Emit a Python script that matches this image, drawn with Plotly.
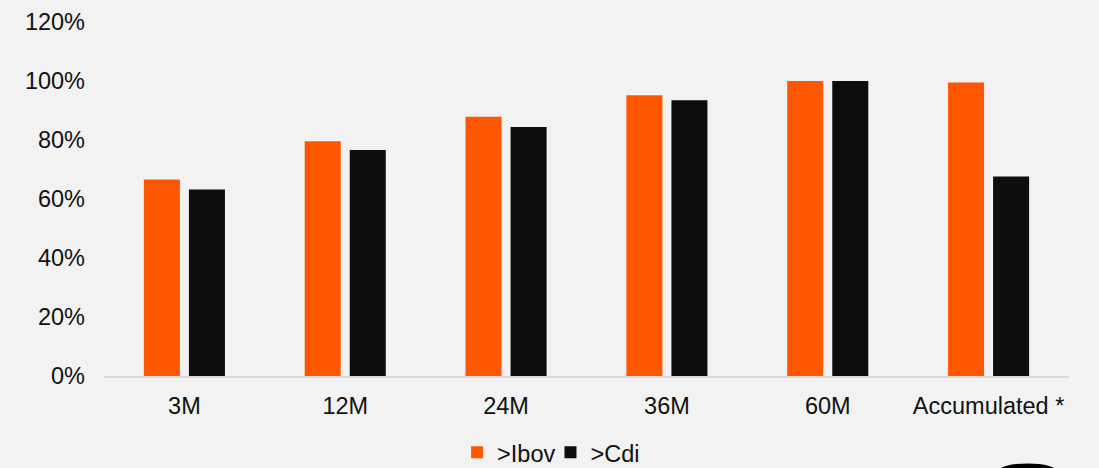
import plotly.graph_objects as go

# Share of periods beating each benchmark
categories = ["3M", "12M", "24M", "36M", "60M", "Accumulated *"]
beat_ibov = [66.6, 79.6, 87.9, 95.2, 100.0, 99.5]
beat_cdi = [63.2, 76.6, 84.4, 93.5, 100.0, 67.6]
y_ticks = [0, 20, 40, 60, 80, 100, 120]
y_tick_text = [f"{v}%" for v in y_ticks]

ORANGE = "#FF5700"
BLACK = "#0D0D0D"
BG = "#F2F2F2"
FONT = "Liberation Sans, Arial, sans-serif"

fig = go.Figure()
fig.add_trace(go.Bar(name=">Ibov", x=categories, y=beat_ibov,
                     marker=dict(color=ORANGE, line=dict(width=0))))
fig.add_trace(go.Bar(name=">Cdi", x=categories, y=beat_cdi,
                     marker=dict(color=BLACK, line=dict(width=0))))

fig.update_layout(
    width=1099, height=468,
    paper_bgcolor=BG, plot_bgcolor=BG,
    margin=dict(l=104, r=30, t=22, b=91.5, pad=0, autoexpand=False),
    barmode="group", bargap=0.44, bargroupgap=0.2,
    font=dict(family=FONT, size=23.5, color="#111111"),
    showlegend=True,
    legend=dict(orientation="h", xref="container", yref="container",
                x=0.506, xanchor="center", y=0.033, yanchor="middle",
                font=dict(size=23.5), bgcolor="rgba(0,0,0,0)",
                itemwidth=30, indentation=-10, tracegroupgap=0),
    xaxis=dict(showline=True, linecolor="#D9D9D9", linewidth=1.5,
               showgrid=False, ticks="", zeroline=False,
               ticklabelstandoff=8, automargin=False),
    yaxis=dict(range=[0, 120], tickvals=y_ticks, ticktext=y_tick_text,
               showgrid=False, zeroline=False, showline=False,
               ticks="", ticklabelstandoff=18, automargin=False),
)

# dark logo edge peeking in at the bottom-right corner
fig.add_shape(type="circle", xref="paper", yref="paper",
              x0=(997 - 104) / 965, x1=(1058 - 104) / 965,
              y0=(376.5 - 482) / 354.5, y1=(376.5 - 464) / 354.5,
              fillcolor="#000000", line=dict(width=0), layer="above")

fig.write_html("out.html")
